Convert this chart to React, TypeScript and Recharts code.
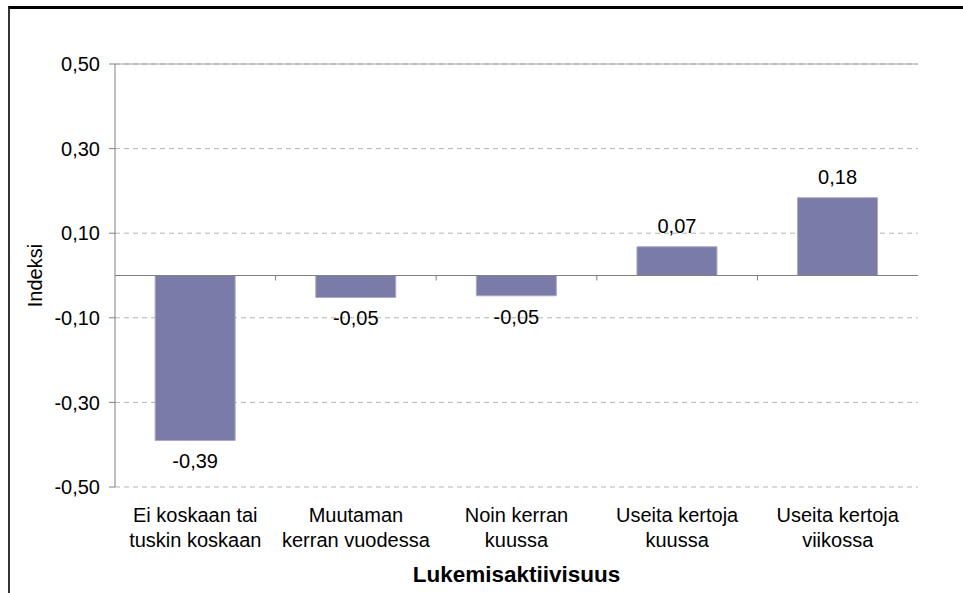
import React from "react";
import {
  BarChart,
  Bar,
  XAxis,
  YAxis,
  CartesianGrid,
  ReferenceLine,
  LabelList,
  Label,
} from "recharts";

const categories = [
  "Ei koskaan tai|tuskin koskaan",
  "Muutaman|kerran vuodessa",
  "Noin kerran|kuussa",
  "Useita kertoja|kuussa",
  "Useita kertoja|viikossa",
];
const indexValues = [-0.39, -0.052, -0.048, 0.068, 0.184];
const yTicks = [-0.5, -0.3, -0.1, 0.1, 0.3, 0.5];

const data = categories.map((name, i) => ({ name, value: indexValues[i] }));

const W = 963;
const H = 593;
const M = { top: 64, right: 45, left: 10, bottom: 0 };
const Y_AXIS_W = 105;
const X_AXIS_H = 106;
const PLOT_H = H - M.top - M.bottom - X_AXIS_H;
const PLOT_W = W - M.left - M.right - Y_AXIS_W;
const FONT = "'Liberation Sans', Arial, sans-serif";
const FS = 20;

const fmt = (v: number) => v.toFixed(2).replace(".", ",");

function CategoryTick(props: any) {
  const { x, y, payload, index } = props;
  const lines = String(payload.value).split("|");
  const band = PLOT_W / categories.length;
  // zero line sits half way up the plot (domain -0.5..0.5)
  const zeroY = y - PLOT_H / 2;
  return (
    <g>
      {index < categories.length - 1 && (
        <line
          x1={x + band / 2}
          x2={x + band / 2}
          y1={zeroY}
          y2={zeroY + 5}
          stroke="#808080"
        />
      )}
      <text
        x={x}
        y={y + 35}
        textAnchor="middle"
        fill="#000"
        fontSize={FS}
        fontFamily={FONT}
      >
        {lines.map((l, i) => (
          <tspan key={i} x={x} dy={i === 0 ? 0 : 25}>
            {l}
          </tspan>
        ))}
      </text>
    </g>
  );
}

function ValueLabel(props: any) {
  const { x, y, width, height, value } = props;
  const top = Math.min(y, y + height);
  const bottom = Math.max(y, y + height);
  const ty = value >= 0 ? top - 14 : bottom + 28;
  return (
    <text
      x={x + width / 2}
      y={ty}
      textAnchor="middle"
      fill="#000"
      fontSize={FS}
      fontFamily={FONT}
    >
      {fmt(value)}
    </text>
  );
}

function YTitle(props: any) {
  const { viewBox } = props;
  const cx = viewBox.x + 25;
  const cy = viewBox.y + viewBox.height / 2;
  return (
    <text
      x={cx}
      y={cy}
      transform={`rotate(-90, ${cx}, ${cy})`}
      textAnchor="middle"
      dominantBaseline="central"
      fill="#000"
      fontSize={FS}
      fontFamily={FONT}
    >
      Indeksi
    </text>
  );
}

export default function App() {
  return (
    <div
      style={{
        position: "absolute",
        left: 0,
        top: 0,
        width: W,
        height: H,
        background: "#fff",
        overflow: "hidden",
      }}
    >
      <div
        style={{
          position: "absolute",
          left: 8,
          top: 6,
          width: 1000,
          height: 700,
          borderTop: "3px solid #000",
          borderLeft: "2px solid #333",
        }}
      />
      <div style={{ position: "absolute", left: 0, top: 0 }}>
        <BarChart
          width={W}
          height={H}
          data={data}
          margin={M}
          barCategoryGap="25%"
        >
          <CartesianGrid
            vertical={false}
            stroke="#b4b4b4"
            strokeDasharray="5 4"
          />
          <XAxis
            dataKey="name"
            height={X_AXIS_H}
            axisLine={false}
            tickLine={false}
            tickSize={0}
            tickMargin={0}
            interval={0}
            tick={<CategoryTick />}
          >
            <Label
              value="Lukemisaktiivisuus"
              position="insideBottom"
              offset={11}
              fill="#000"
              fontSize={22.5}
              fontWeight="bold"
              fontFamily={FONT}
            />
          </XAxis>
          <YAxis
            width={Y_AXIS_W}
            domain={[-0.5, 0.5]}
            ticks={yTicks}
            tickFormatter={fmt}
            axisLine={{ stroke: "#808080" }}
            tickLine={{ stroke: "#808080" }}
            tickSize={6}
            tickMargin={9}
            tick={{ fill: "#000", fontSize: FS, fontFamily: FONT }}
            allowDataOverflow
          >
            <Label content={<YTitle />} />
          </YAxis>
          <YAxis
            yAxisId="frame"
            orientation="right"
            width={0}
            domain={[-0.5, 0.5]}
            tick={false}
            tickLine={false}
            axisLine={{ stroke: "#a0a0a0" }}
          />
          <ReferenceLine y={0.5} stroke="#a0a0a0" />
          <ReferenceLine y={0} stroke="#808080" />
          <Bar
            dataKey="value"
            fill="#7b7ba8"
            stroke="#a9aac6"
            strokeWidth={1}
            isAnimationActive={false}
          >
            <LabelList dataKey="value" content={<ValueLabel />} />
          </Bar>
        </BarChart>
      </div>
    </div>
  );
}
